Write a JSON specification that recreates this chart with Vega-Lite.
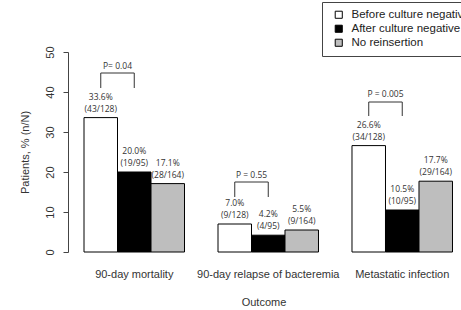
{
  "$schema": "https://vega.github.io/schema/vega-lite/v6.json",
  "width": 391,
  "height": 200,
  "autosize": {"type": "none"},
  "padding": {"left": 68, "top": 52, "right": 2, "bottom": 58},
  "background": "white",
  "config": {"view": {"stroke": null}, "font": "Liberation Sans", "axisY": {"labelOverlap": false}},
  "datasets": {
    "bars": [
      {"outcome": "90-day mortality", "group": "Before culture negative", "pct": 33.6, "pctLabel": "33.6%", "nLabel": "(43/128)"},
      {"outcome": "90-day mortality", "group": "After culture negative", "pct": 20.0, "pctLabel": "20.0%", "nLabel": "(19/95)"},
      {"outcome": "90-day mortality", "group": "No reinsertion", "pct": 17.1, "pctLabel": "17.1%", "nLabel": "(28/164)"},
      {"outcome": "90-day relapse of bacteremia", "group": "Before culture negative", "pct": 7.0, "pctLabel": "7.0%", "nLabel": "(9/128)"},
      {"outcome": "90-day relapse of bacteremia", "group": "After culture negative", "pct": 4.2, "pctLabel": "4.2%", "nLabel": "(4/95)"},
      {"outcome": "90-day relapse of bacteremia", "group": "No reinsertion", "pct": 5.5, "pctLabel": "5.5%", "nLabel": "(9/164)"},
      {"outcome": "Metastatic infection", "group": "Before culture negative", "pct": 26.6, "pctLabel": "26.6%", "nLabel": "(34/128)"},
      {"outcome": "Metastatic infection", "group": "After culture negative", "pct": 10.5, "pctLabel": "10.5%", "nLabel": "(10/95)"},
      {"outcome": "Metastatic infection", "group": "No reinsertion", "pct": 17.7, "pctLabel": "17.7%", "nLabel": "(29/164)"}
    ],
    "brackets": [
      {"outcome": "90-day mortality", "group": "Before culture negative", "y": 41.0, "ord": 1},
      {"outcome": "90-day mortality", "group": "Before culture negative", "y": 44.75, "ord": 2},
      {"outcome": "90-day mortality", "group": "After culture negative", "y": 44.75, "ord": 3},
      {"outcome": "90-day mortality", "group": "After culture negative", "y": 41.0, "ord": 4},
      {"outcome": "90-day relapse of bacteremia", "group": "Before culture negative", "y": 13.75, "ord": 1},
      {"outcome": "90-day relapse of bacteremia", "group": "Before culture negative", "y": 17.5, "ord": 2},
      {"outcome": "90-day relapse of bacteremia", "group": "After culture negative", "y": 17.5, "ord": 3},
      {"outcome": "90-day relapse of bacteremia", "group": "After culture negative", "y": 13.75, "ord": 4},
      {"outcome": "Metastatic infection", "group": "Before culture negative", "y": 34.0, "ord": 1},
      {"outcome": "Metastatic infection", "group": "Before culture negative", "y": 37.5, "ord": 2},
      {"outcome": "Metastatic infection", "group": "After culture negative", "y": 37.5, "ord": 3},
      {"outcome": "Metastatic infection", "group": "After culture negative", "y": 34.0, "ord": 4}
    ],
    "pvals": [
      {"outcome": "90-day mortality", "group": "Before culture negative", "y": 46.5, "label": "P= 0.04"},
      {"outcome": "90-day relapse of bacteremia", "group": "Before culture negative", "y": 19.25, "label": "P = 0.55"},
      {"outcome": "Metastatic infection", "group": "Before culture negative", "y": 39.5, "label": "P = 0.005"}
    ]
  },
  "encoding": {
    "x": {
      "field": "outcome",
      "type": "nominal",
      "sort": ["90-day mortality", "90-day relapse of bacteremia", "Metastatic infection"],
      "scale": {"domain": ["90-day mortality", "90-day relapse of bacteremia", "Metastatic infection"], "paddingInner": 0.25, "paddingOuter": 0.084, "align": 0.711},
      "axis": {"title": "Outcome", "domain": false, "ticks": false, "labelPadding": 16, "labelFontSize": 11, "labelAngle": 0, "labelColor": "#333", "titlePadding": 17, "titleFontWeight": "normal", "titleFontSize": 11, "titleColor": "#333", "labelLimit": 0}
    },
    "xOffset": {
      "field": "group",
      "type": "nominal",
      "scale": {"domain": ["Before culture negative", "After culture negative", "No reinsertion"], "paddingInner": 0, "paddingOuter": 0}
    }
  },
  "layer": [
    {
      "data": {"name": "bars"},
      "mark": {"type": "bar", "stroke": "black", "strokeWidth": 1},
      "encoding": {
        "y": {
          "field": "pct",
          "type": "quantitative",
          "scale": {"domain": [0, 50], "nice": false},
          "axis": {"title": "Patients, % (n/N)", "values": [0, 10, 20, 30, 40, 50], "tickCount": 6, "labelOverlap": false, "grid": false, "domainColor": "#444", "tickColor": "#444", "tickSize": 5, "labelAngle": 270, "labelAlign": "center", "labelBaseline": "bottom", "labelPadding": 8, "labelFontSize": 11, "labelColor": "#333", "titlePadding": 14, "titleFontWeight": "normal", "titleFontSize": 11, "titleColor": "#333"}
        },
        "fill": {
          "field": "group",
          "type": "nominal",
          "scale": {"domain": ["Before culture negative", "After culture negative", "No reinsertion"], "range": ["white", "black", "#bebebe"]},
          "legend": {"title": null, "orient": "none", "legendX": 254, "legendY": -50, "strokeColor": "#444", "fillColor": "white", "padding": 7, "symbolType": "square", "symbolSize": 50, "symbolStrokeColor": "black", "symbolStrokeWidth": 1, "labelFontSize": 11.5, "labelFont": "Liberation Sans", "labelColor": "#222", "rowPadding": 1, "symbolOffset": 4, "labelOffset": 7, "labelLimit": 0}
        }
      }
    },
    {
      "data": {"name": "bars"},
      "mark": {"type": "text", "dy": -21, "fontSize": 8.5, "font": "Open Sans", "fill": "#333", "baseline": "middle"},
      "encoding": {"y": {"field": "pct", "type": "quantitative", "axis": {"title": "Patients, % (n/N)", "values": [0, 10, 20, 30, 40, 50], "tickCount": 6, "labelOverlap": false}}, "text": {"field": "pctLabel"}}
    },
    {
      "data": {"name": "bars"},
      "mark": {"type": "text", "dy": -9, "fontSize": 8.5, "font": "Open Sans", "fill": "#333", "baseline": "middle"},
      "encoding": {"y": {"field": "pct", "type": "quantitative", "axis": {"title": "Patients, % (n/N)", "values": [0, 10, 20, 30, 40, 50], "tickCount": 6, "labelOverlap": false}}, "text": {"field": "nLabel"}}
    },
    {
      "data": {"name": "brackets"},
      "mark": {"type": "line", "stroke": "#333", "strokeWidth": 1},
      "encoding": {"y": {"field": "y", "type": "quantitative", "axis": {"title": "Patients, % (n/N)", "values": [0, 10, 20, 30, 40, 50], "tickCount": 6, "labelOverlap": false}}, "detail": {"field": "outcome"}, "order": {"field": "ord"}}
    },
    {
      "data": {"name": "pvals"},
      "mark": {"type": "text", "dx": 16.75, "fontSize": 8.5, "font": "Open Sans", "fill": "#333", "baseline": "middle"},
      "encoding": {"y": {"field": "y", "type": "quantitative", "axis": {"title": "Patients, % (n/N)", "values": [0, 10, 20, 30, 40, 50], "tickCount": 6, "labelOverlap": false}}, "text": {"field": "label"}}
    }
  ]
}
